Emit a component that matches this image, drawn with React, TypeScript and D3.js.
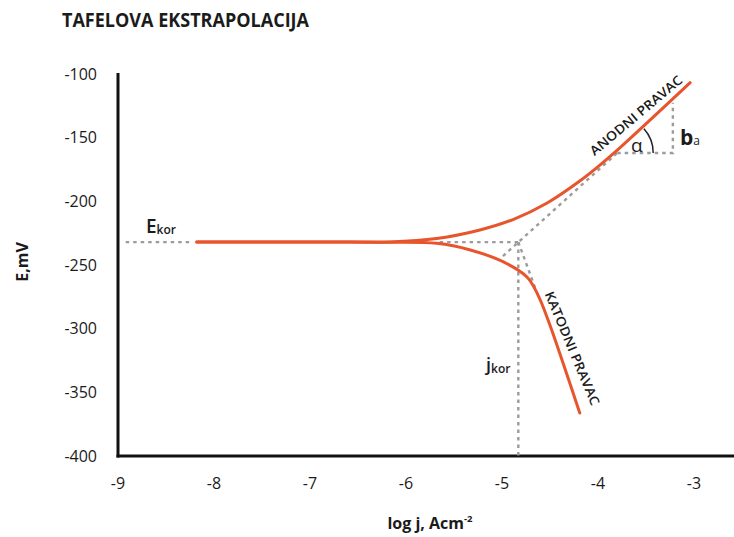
import React from 'react';
import * as d3 from 'd3';

const W = 734;
const H = 537;

// axis ticks
const xTicks = [-9, -8, -7, -6, -5, -4, -3];
const yTicks = [-100, -150, -200, -250, -300, -350, -400];

// polarisation curve, [log j (A/cm²), E (mV)]
const anodicBranch: [number, number][] = [
  [-8.18, -232],
  [-6.6, -232],
  [-6.17, -231.9],
  [-5.68, -229.2],
  [-5.23, -222.5],
  [-4.885, -214.3],
  [-4.53, -201.3],
  [-4.19, -184],
  [-3.98, -171.5],
  [-3.77, -157.8],
  [-3.04, -106.8],
];

const cathodicBranch: [number, number][] = [
  [-8.18, -232],
  [-6.6, -232],
  [-6.17, -232.1],
  [-5.68, -233],
  [-5.33, -238.2],
  [-4.99, -247.4],
  [-4.74, -259.4],
  [-4.625, -273.6],
  [-4.52, -293.2],
  [-4.19, -366.2],
];

// corrosion point
const eKor = -232;
const logJKor = -4.83;

// construction lines
const eKorLead: [number, number][] = [[-8.92, eKor], [-8.24, eKor]];
const eKorGuide: [number, number][] = [[-5.65, eKor], [logJKor, eKor]];
const jKorDrop: [number, number][] = [[logJKor, eKor], [logJKor, -400]];
const anodicTafel: [number, number][] = [[-4.99, -243], [-3.8, -162]];
const cathodicTafel: [number, number][] = [[logJKor, eKor], [-4.625, -274]];
const slopeTriangle: [number, number][] = [[-3.8, -162], [-3.22, -162], [-3.22, -122.6]];

const RED = '#e8542b';
const GRAY = '#9c9c9c';
const INK = '#1b1b1b';
const FONT = '"Open Sans", "DejaVu Sans", sans-serif';

export default function App() {
  const x = d3.scaleLinear().domain([-9, -3]).range([118, 694]);
  const y = d3.scaleLinear().domain([-400, -100]).range([456, 74]);

  const curve = d3
    .line<[number, number]>()
    .x((d) => x(d[0]))
    .y((d) => y(d[1]))
    .curve(d3.curveCatmullRom.alpha(0.5));
  const straight = d3
    .line<[number, number]>()
    .x((d) => x(d[0]))
    .y((d) => y(d[1]));

  const dash = { stroke: GRAY, strokeWidth: 2.4, strokeDasharray: '3.5 4', fill: 'none' };

  // angle marker at the start of the slope triangle
  const vx = x(anodicTafel[1][0]);
  const vy = y(anodicTafel[1][1]);
  const ang = Math.atan2(
    y(anodicTafel[0][1]) - y(anodicTafel[1][1]),
    x(anodicTafel[0][0]) - x(anodicTafel[1][0])
  );
  const tilt = Math.PI - ang; // angle of the line above the horizontal
  const r = 36;
  const arcPath = d3.path();
  arcPath.moveTo(vx + r, vy);
  arcPath.arc(vx, vy, r, 0, -tilt, true);

  return (
    <svg
      width={W}
      height={H}
      style={{ position: 'absolute', left: 0, top: 0, background: '#fff' }}
      fontFamily={FONT}
    >
      <text x={62} y={26.5} fontSize={19} fontWeight={700} fill={INK} textLength={247} lengthAdjust="spacingAndGlyphs">
        TAFELOVA EKSTRAPOLACIJA
      </text>

      {/* axes */}
      <line x1={x(-9)} y1={73} x2={x(-9)} y2={y(-400) + 1.5} stroke="#111" strokeWidth={3} />
      <line x1={x(-9) - 1.5} y1={y(-400)} x2={W} y2={y(-400)} stroke="#111" strokeWidth={3} />

      {yTicks.map((t) => (
        <text key={t} x={97} y={y(t)} dy="0.36em" textAnchor="end" fontSize={16} fill={INK}>
          {t}
        </text>
      ))}
      {xTicks.map((t) => (
        <text key={t} x={x(t)} y={489} textAnchor="middle" fontSize={16} fill={INK}>
          {t}
        </text>
      ))}

      <text transform="translate(28,262) rotate(-90)" textAnchor="middle" fontSize={16} fontWeight={700} fill={INK}>
        E,mV
      </text>
      <text x={430} y={529} textAnchor="middle" fontSize={16} fontWeight={700} fill={INK}>
        log j, Acm
        <tspan fontSize={9.5} dy={-7}>-2</tspan>
      </text>

      {/* construction lines */}
      <path d={straight(eKorLead) ?? ''} {...dash} />
      <path d={straight(eKorGuide) ?? ''} {...dash} />
      <path d={straight(jKorDrop) ?? ''} {...dash} />
      <path d={straight(anodicTafel) ?? ''} {...dash} />
      <path d={straight(cathodicTafel) ?? ''} {...dash} />
      <path d={straight(slopeTriangle) ?? ''} {...dash} />

      {/* polarisation curve */}
      <path d={curve(anodicBranch) ?? ''} fill="none" stroke={RED} strokeWidth={3} strokeLinecap="round" />
      <path d={curve(cathodicBranch) ?? ''} fill="none" stroke={RED} strokeWidth={3} strokeLinecap="round" />

      <path d={arcPath.toString()} fill="none" stroke="#222" strokeWidth={1.5} />

      {/* labels */}
      <text x={146} y={233} fontSize={19} fontWeight={600} fill={INK}>
        E<tspan fontSize={12} dy={0.5}>kor</tspan>
      </text>
      <text x={486} y={371} fontSize={18} fontWeight={600} fill={INK}>
        j<tspan fontSize={12} dy={2}>kor</tspan>
      </text>
      <text x={631} y={152} fontSize={19} fill={INK}>
        α
      </text>
      <text x={680} y={145} fontSize={21} fontWeight={700} fill={INK}>
        b<tspan fontSize={12} fontWeight={400}>a</tspan>
      </text>
      <text
        transform="translate(639,119) rotate(-40)"
        textAnchor="middle"
        fontSize={13}
        fontWeight={600}
        fill={INK}
        textLength={116}
        lengthAdjust="spacingAndGlyphs"
      >
        ANODNI PRAVAC
      </text>
      <text
        transform="translate(568,350) rotate(67.3)"
        textAnchor="middle"
        fontSize={13}
        fontWeight={600}
        fill={INK}
        textLength={122}
        lengthAdjust="spacingAndGlyphs"
      >
        KATODNI PRAVAC
      </text>
    </svg>
  );
}
